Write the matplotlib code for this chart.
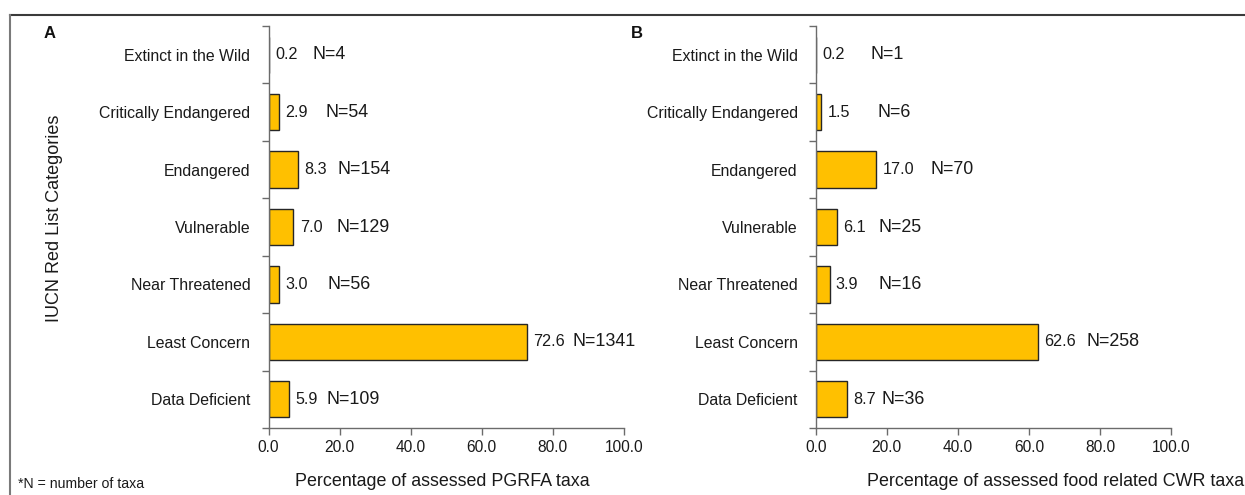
import matplotlib
matplotlib.use("Agg")
import matplotlib.pyplot as plt
from matplotlib.lines import Line2D

plt.rcParams['font.family'] = ['Liberation Sans', 'DejaVu Sans']

# ---- data ----
categories = ["Extinct in the Wild", "Critically Endangered", "Endangered",
              "Vulnerable", "Near Threatened", "Least Concern", "Data Deficient"]
pct_pgrfa = [0.2, 2.9, 8.3, 7.0, 3.0, 72.6, 5.9]
n_pgrfa = [4, 54, 154, 129, 56, 1341, 109]
pct_cwr = [0.2, 1.5, 17.0, 6.1, 3.9, 62.6, 8.7]
n_cwr = [1, 6, 70, 25, 16, 258, 36]
xticks = [0, 20, 40, 60, 80, 100]

# ---- layout (N label x-positions in data units) ----
nx_a = [12.5, 15.9, 19.3, 19.0, 16.5, 85.4, 16.2]
nx_b = [15.3, 17.5, 32.2, 17.6, 17.6, 76.3, 18.6]

W, H = 1245, 495
fig = plt.figure(figsize=(W / 100, H / 100), dpi=100)

BAR = "#FFC000"
EDGE = "#262626"
SPINE = "#6b6b6b"


def panel(left_px, right_px, pct, ns, nx, xlabel, label_x_px, letter, letter_px):
    ax = fig.add_axes([left_px / W, (H - 428) / H, (right_px - left_px) / W, (428 - 26) / H])
    y = list(range(len(categories)))
    ax.barh(y, pct, height=0.63, color=BAR, edgecolor=EDGE, linewidth=1.0, zorder=2)
    ax.set_ylim(len(categories) - 0.5, -0.5)
    ax.set_xlim(0, 100)
    ax.set_yticks(y)
    ax.set_yticklabels(categories, fontsize=11.4)
    ax.set_yticks([i - 0.5 for i in range(len(categories) + 1)], minor=True)
    ax.tick_params(axis='y', which='major', length=0, pad=13, colors='#1a1a1a')
    ax.tick_params(axis='y', which='minor', length=5, width=1, color=SPINE, direction='out')
    ax.set_xticks(xticks)
    ax.set_xticklabels([f"{v:.1f}" for v in xticks], fontsize=11.2, color='#1a1a1a')
    ax.tick_params(axis='x', length=5, width=1, color=SPINE, direction='out', pad=4)
    for s in ['top', 'right']:
        ax.spines[s].set_visible(False)
    for s in ['left', 'bottom']:
        ax.spines[s].set_color(SPINE)
        ax.spines[s].set_linewidth(1)
    for i, (v, n, x) in enumerate(zip(pct, ns, nx)):
        ax.annotate(f"{v:.1f}", (v, i), xytext=(4.5, 0), textcoords='offset points',
                    ha='left', va='center', fontsize=11.6, color='#1a1a1a')
        ax.text(x, i, f"N={n}", ha='left', va='center', fontsize=12.9, color='#1a1a1a')
    fig.text(label_x_px / W, 1 - 481 / H, xlabel, ha='left', va='center',
             fontsize=12.9, color='#1a1a1a')
    fig.text(letter_px / W, 1 - 33 / H, letter, ha='left', va='center',
             fontsize=12, fontweight='bold', color='#111111')
    return ax


panel(268.5, 624, pct_pgrfa, n_pgrfa, nx_a, "Percentage of assessed PGRFA taxa", 295, "A", 44)
panel(815.7, 1171, pct_cwr, n_cwr, nx_b, "Percentage of assessed food related CWR taxa", 867, "B", 631)

fig.text(55 / W, 1 - 218 / H, "IUCN Red List Categories", rotation=90,
         ha='center', va='center', fontsize=13, color='#1a1a1a')
fig.text(18 / W, 1 - 484 / H, "*N = number of taxa", ha='left', va='center',
         fontsize=10.2, color='#1a1a1a')

# frame lines
fig.add_artist(Line2D([10 / W, 1.0], [1 - 15 / H, 1 - 15 / H], color='#3a3a3a', lw=1.5,
                      transform=fig.transFigure))
fig.add_artist(Line2D([10 / W, 10 / W], [1 - 15 / H, 0], color='#7a7a7a', lw=1.5,
                      transform=fig.transFigure))

fig.savefig("out.png", dpi=100)
